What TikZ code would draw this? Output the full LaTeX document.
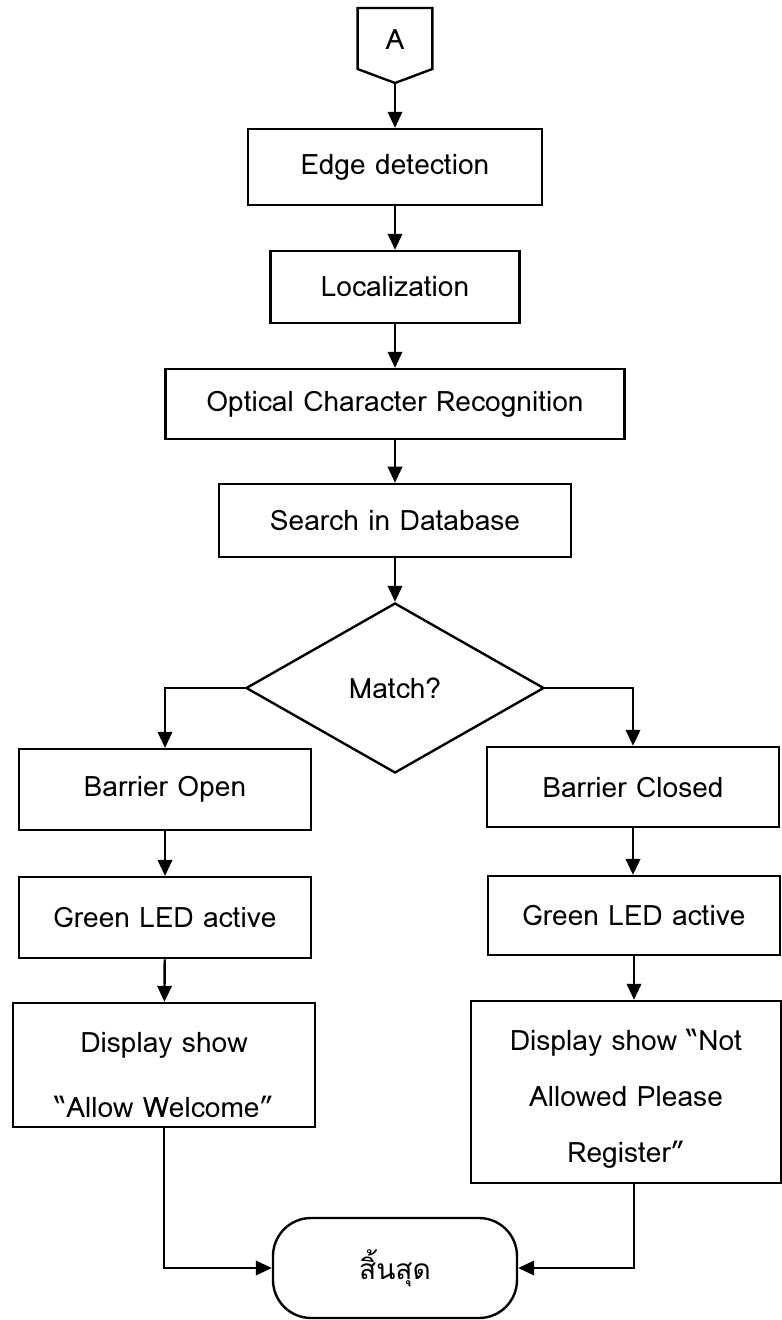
\documentclass[tikz,border=0pt]{standalone}
\usepackage{fontspec}
\setmainfont{Loma}
\newfontfamily\thaifont[Script=Thai]{Loma}
\usetikzlibrary{shapes.geometric,arrows.meta,positioning}
\tikzset{b/.style={draw,line width=1.7pt,align=center,font=\fontsize{20}{40}\selectfont,inner sep=2pt},
 d/.style={draw,diamond,line width=1.7pt,align=center,font=\fontsize{20}{40}\selectfont,inner sep=0pt,minimum width=7.45cm,minimum height=4.25cm,aspect=1.75},
 o/.style={draw,line width=1.7pt,rounded corners=0.95cm,align=center,font=\thaifont\fontsize{20}{40}\selectfont,minimum width=6.1cm,minimum height=2.5cm},
 ar/.style={line width=1.7pt,-{Triangle[length=0.4cm,width=0.36cm]}}}

\begin{document}
\begin{tikzpicture}
\useasboundingbox (0,0) rectangle (19.55,-33);
% off-page connector
\draw[line width=1.7pt] (8.94,-0.2) -- (10.81,-0.2) -- (10.81,-1.725) -- (9.875,-2.075) -- (8.94,-1.725) -- cycle;
\node[font=\fontsize{20}{40}\selectfont](a) at (9.875,-1.0){A};
\coordinate(at) at (9.875,-2.075);
\node[b,minimum width=7.35cm,minimum height=1.9cm](e) at (9.875,-4.175){Edge detection};
\node[b,minimum width=6.225cm,minimum height=1.8cm](l) at (9.875,-7.175){Localization};
\node[b,minimum width=11.475cm,minimum height=1.75cm](c) at (9.875,-10.1){Optical Character Recognition};
\node[b,minimum width=8.8cm,minimum height=1.825cm](s) at (9.875,-13.01){Search in Database};
\node[d](m) at (9.875,-17.2){Match?};
\node[b,minimum width=7.3cm,minimum height=2.025cm](bo) at (4.125,-19.74){Barrier Open};
\node[b,minimum width=7.3cm,minimum height=2cm](bc) at (15.825,-19.675){Barrier Closed};
\node[b,minimum width=7.3cm,minimum height=2.025cm](gl) at (4.125,-22.94){Green LED active};
\node[b,minimum width=7.3cm,minimum height=1.975cm](gr) at (15.85,-22.89){Green LED active};
\node[b,minimum width=7.55cm,minimum height=3.1cm](dl) at (4.1,-26.625){\rule{0pt}{29pt}Display show\\[6pt]“Allow Welcome”};
\node[b,minimum width=7.75cm,minimum height=4.55cm](dr) at (15.65,-27.3){\rule{0pt}{25pt}Display show “Not\\Allowed Please\\Register”};
\node[o](t) at (9.875,-31.7){สิ้นสุด};
\draw[ar](at)--(e);\draw[ar](e)--(l);\draw[ar](l)--(c);\draw[ar](c)--(s);\draw[ar](s)--(m);
\draw[ar](m.west)-|(bo.north);\draw[ar](m.east)-|(bc.north);
\draw[ar](bo)--(gl);\draw[ar](bc.south)--(bc.south|-gr.north);
\draw[ar](gl)--(dl);\draw[ar](gr.south)--(gr.south|-dr.north);
\draw[ar](dl.south)|-(t.west);\draw[ar](dr.south-|gr.south)|-(t.east);
\end{tikzpicture}
\end{document}
